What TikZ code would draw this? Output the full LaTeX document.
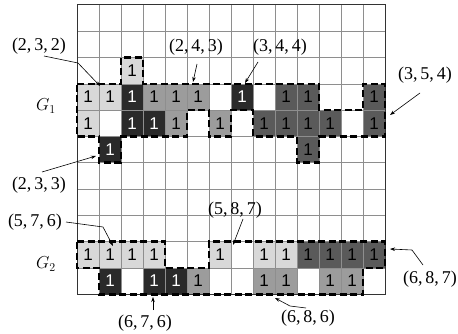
\documentclass[tikz,border=0pt]{standalone}
\usepackage{fontspec}
\setmainfont{Liberation Serif}
\setsansfont{Liberation Sans}
\usetikzlibrary{arrows.meta}
\definecolor{cLight}{HTML}{D8D8D8}
\definecolor{cMid}{HTML}{9C9C9C}
\definecolor{cDark}{HTML}{5A5A5A}
\definecolor{cBlack}{HTML}{2A2A2A}
\definecolor{cGrid}{HTML}{8E8E8E}
\begin{document}
\begin{tikzpicture}[x=1pt,y=-1pt,
  cellbox/.style={minimum width=22pt,minimum height=26.3pt,inner sep=0pt,font=\sffamily\fontsize{17}{17}\selectfont},
  lt/.style={cellbox,fill=cLight,text=black},
  md/.style={cellbox,fill=cMid,text=black},
  dk/.style={cellbox,fill=cDark,text=black},
  bk/.style={cellbox,fill=cBlack,text=white},
  gridline/.style={draw=cGrid,line width=0.7pt},
  border/.style={draw=black!80,line width=1pt},
  outline/.style={draw=black,line width=2.6pt,dash pattern=on 7pt off 3.5pt},
  lab/.style={font=\fontsize{18}{18}\selectfont,inner sep=0pt},
  glab/.style={font=\fontsize{18}{18}\selectfont,inner sep=0pt},
  pointer/.style={draw=black,line width=0.6pt,-{Stealth[length=5pt,width=3.5pt]}}
]
\useasboundingbox (0,0) rectangle (458,334);
\fill[white] (0,0) rectangle (458,334);

\begin{scope}[shift={(77,5)},x=22pt,y=-26.3pt]
  % light cells
  \foreach \c/\r in {2/2,0/3,1/3,0/4,0/9,1/9,2/9,3/9,6/9,8/9,9/9}
    \node[lt] (c\c-\r) at (\c+0.5,\r+0.5) {1};
  % mid cells
  \foreach \c/\r in {3/3,4/3,5/3,4/4,6/4,5/10,8/10,9/10,11/10,12/10}
    \node[md] (c\c-\r) at (\c+0.5,\r+0.5) {1};
  % dark cells
  \foreach \c/\r in {9/3,10/3,13/3,8/4,9/4,10/4,11/4,13/4,10/5,10/9,11/9,12/9,13/9}
    \node[dk] (c\c-\r) at (\c+0.5,\r+0.5) {1};
  % black cells
  \foreach \c/\r in {2/3,7/3,2/4,3/4,1/5,1/10,3/10,4/10}
    \node[bk] (c\c-\r) at (\c+0.5,\r+0.5) {1};
  % grid
  \foreach \i in {1,...,13} \draw[gridline] (\i,0) -- (\i,11);
  \foreach \j in {1,...,10} \draw[gridline] (0,\j) -- (14,\j);
  \draw[border] (0,0) rectangle (14,11);
  % outlines
  \draw[outline] (0,3) -- (2,3) -- (2,2) -- (3,2) -- (3,3) -- (11,3) -- (11,4) -- (13,4) -- (13,3)
    -- (14,3) -- (14,5) -- (11,5) -- (11,6) -- (10,6) -- (10,5) -- (8,5) -- (8,4) -- (7,4) -- (7,5)
    -- (6,5) -- (6,4) -- (5,4) -- (5,5) -- (2,5) -- (2,6) -- (1,6) -- (1,5) -- (0,5) -- cycle;
  \draw[outline] (0,9) -- (4,9) -- (4,10) -- (6,10) -- (6,9) -- (14,9) -- (14,10) -- (13,10)
    -- (13,11) -- (1,11) -- (1,10) -- (0,10) -- cycle;
\end{scope}

% group labels
\node[glab] (g1) at (46,106) {$G_{1}$};
\node[glab] (g2) at (46,264) {$G_{2}$};

% labels
\node[lab] (l232) at (39,46) {(2,\,3,\,2)};
\node[lab] (l233) at (39,185) {(2,\,3,\,3)};
\node[lab] (l243) at (196,47) {(2,\,4,\,3)};
\node[lab] (l344) at (280,47) {(3,\,4,\,4)};
\node[lab] (l354) at (425,75) {(3,\,5,\,4)};
\node[lab] (l576) at (35,222) {(5,\,7,\,6)};
\node[lab] (l587) at (235,210) {(5,\,8,\,7)};
\node[lab] (l687) at (430,279) {(6,\,8,\,7)};
\node[lab] (l686) at (308,318) {(6,\,8,\,6)};
\node[lab] (l676) at (145,323) {(6,\,7,\,6)};

% pointer coordinates
\coordinate (s232) at (44,56);  \coordinate (b232) at (78,63);  \coordinate (t232) at (100,86);
\coordinate (s233) at (42,172); \coordinate (t233) at (96,156);
\coordinate (s243) at (197,64); \coordinate (t243) at (193,82);
\coordinate (s344) at (258,62); \coordinate (t344) at (245,83);
\coordinate (s354) at (420,93); \coordinate (t354) at (390,115);
\coordinate (s576) at (66,222); \coordinate (b576) at (103,227); \coordinate (t576) at (113,246);
\coordinate (s587) at (243,219); \coordinate (t587) at (233,245);
\coordinate (s687) at (423,265); \coordinate (b687) at (412,250); \coordinate (t687) at (390,249);
\coordinate (s686) at (306,308); \coordinate (b686) at (290,306); \coordinate (t686) at (275,298);
\coordinate (s676) at (153,310); \coordinate (t676) at (153,297);

\draw[pointer] (s232) -- (b232) -- (t232);
\draw[pointer] (s233) -- (t233);
\draw[pointer] (s243) -- (t243);
\draw[pointer] (s344) -- (t344);
\draw[pointer] (s354) -- (t354);
\draw[pointer] (s576) -- (b576) -- (t576);
\draw[pointer] (s587) -- (t587);
\draw[pointer] (s687) -- (b687) -- (t687);
\draw[pointer] (s686) -- (b686) -- (t686);
\draw[pointer] (s676) -- (t676);
\end{tikzpicture}
\end{document}
